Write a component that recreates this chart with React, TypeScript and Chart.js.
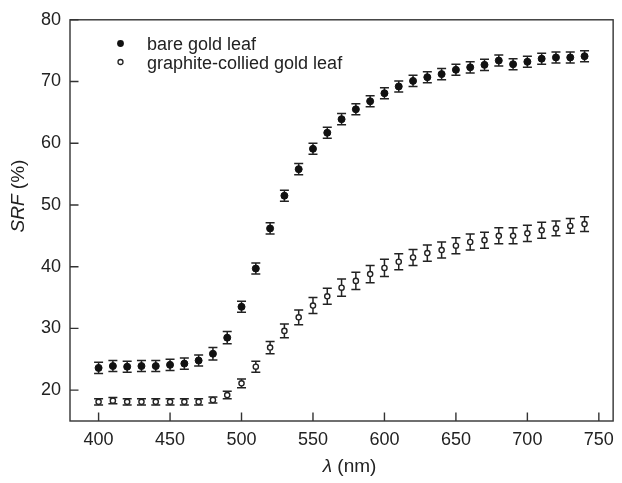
import React, { useEffect, useRef } from "react";
import { Chart, registerables } from "chart.js";

Chart.register(...registerables);

// ---- data ----
const wavelengths = [
  400, 410, 420, 430, 440, 450, 460, 470, 480, 490, 500, 510, 520, 530, 540, 550, 560, 570,
  580, 590, 600, 610, 620, 630, 640, 650, 660, 670, 680, 690, 700, 710, 720, 730, 740,
];
const bareLabel = "bare gold leaf";
const bareValues = [
  23.6, 23.9, 23.8, 23.9, 23.9, 24.1, 24.3, 24.8, 25.9, 28.5, 33.5, 39.7, 46.2, 51.5, 55.8, 59.1,
  61.7, 63.9, 65.5, 66.8, 68.1, 69.2, 70.1, 70.7, 71.2, 71.9, 72.3, 72.7, 73.4, 72.8, 73.2, 73.7,
  73.9, 73.9, 74.1,
];
const bareErrors = [
  0.9, 0.9, 0.9, 0.9, 0.9, 0.9, 0.9, 0.9, 1.0, 1.0, 0.9, 0.9, 0.9, 0.9, 0.9, 0.9, 0.9, 0.9,
  0.9, 0.9, 0.9, 0.9, 0.9, 0.9, 0.9, 0.9, 0.9, 0.9, 0.9, 0.9, 0.9, 0.9, 0.9, 0.9, 0.9,
];
const graphiteLabel = "graphite-collied gold leaf";
const graphiteValues = [
  18.1, 18.3, 18.1, 18.1, 18.1, 18.1, 18.1, 18.1, 18.4, 19.2, 21.1, 23.8, 26.9, 29.6, 31.8, 33.7,
  35.2, 36.6, 37.7, 38.8, 39.8, 40.8, 41.5, 42.2, 42.7, 43.4, 44.0, 44.3, 45.0, 45.0, 45.4, 45.9,
  46.2, 46.6, 46.9,
];
const graphiteErrors = [
  0.5, 0.5, 0.5, 0.5, 0.5, 0.5, 0.5, 0.5, 0.5, 0.6, 0.7, 0.9, 1.0, 1.1, 1.2, 1.3, 1.3, 1.4,
  1.4, 1.4, 1.4, 1.3, 1.3, 1.3, 1.3, 1.3, 1.3, 1.3, 1.3, 1.3, 1.3, 1.3, 1.2, 1.2, 1.2,
];
const xTickValues = [400, 450, 500, 550, 600, 650, 700, 750];
const yTickValues = [20, 30, 40, 50, 60, 70, 80];
const xTitleItalic = "λ";
const xTitleRest = " (nm)";
const yTitleItalic = "SRF";
const yTitleRest = " (%)";

const FONT = "'Liberation Sans', Arial, Helvetica, sans-serif";
const INK = "#222";
const AXIS = "#333";

const errorBarPlugin = {
  id: "errorBars",
  beforeDatasetsDraw(chart: any) {
    const ctx = chart.ctx;
    const yScale = chart.scales.y;
    const errs = [bareErrors, graphiteErrors];
    const vals = [bareValues, graphiteValues];
    ctx.save();
    ctx.strokeStyle = INK;
    ctx.lineWidth = 1.5;
    chart.data.datasets.forEach((_ds: any, di: number) => {
      const meta = chart.getDatasetMeta(di);
      meta.data.forEach((pt: any, i: number) => {
        const x = pt.x;
        const yTop = yScale.getPixelForValue(vals[di][i] + errs[di][i]);
        const yBot = yScale.getPixelForValue(vals[di][i] - errs[di][i]);
        const cap = 4.5;
        ctx.beginPath();
        ctx.moveTo(x, yTop);
        ctx.lineTo(x, yBot);
        ctx.moveTo(x - cap, yTop);
        ctx.lineTo(x + cap, yTop);
        ctx.moveTo(x - cap, yBot);
        ctx.lineTo(x + cap, yBot);
        ctx.stroke();
      });
    });
    ctx.restore();
  },
};

const framePlugin = {
  id: "frame",
  afterDraw(chart: any) {
    const ctx = chart.ctx;
    const { left, right, top, bottom } = chart.chartArea;
    const xs = chart.scales.x;
    const ys = chart.scales.y;
    ctx.save();
    ctx.strokeStyle = AXIS;
    ctx.lineWidth = 1.4;
    ctx.strokeRect(left, top, right - left, bottom - top);
    const tl = 8.5;
    ctx.beginPath();
    xTickValues.forEach((v) => {
      const px = xs.getPixelForValue(v);
      ctx.moveTo(px, bottom);
      ctx.lineTo(px, bottom - tl);
    });
    yTickValues.forEach((v) => {
      const py = ys.getPixelForValue(v);
      ctx.moveTo(left, py);
      ctx.lineTo(left + tl, py);
    });
    ctx.stroke();

    // legend
    const lx = 120.5;
    ctx.fillStyle = "#111";
    ctx.beginPath();
    ctx.arc(lx, 43.5, 3.4, 0, Math.PI * 2);
    ctx.fill();
    ctx.fillStyle = "#fff";
    ctx.strokeStyle = INK;
    ctx.lineWidth = 1.3;
    ctx.beginPath();
    ctx.arc(lx, 62, 2.5, 0, Math.PI * 2);
    ctx.fill();
    ctx.stroke();
    ctx.fillStyle = INK;
    ctx.font = `18px ${FONT}`;
    ctx.textAlign = "left";
    ctx.textBaseline = "alphabetic";
    ctx.fillText(bareLabel, 147, 50);
    ctx.fillText(graphiteLabel, 147, 68.5);

    // x title
    const italic = `italic 19px ${FONT}`;
    const normal = `19px ${FONT}`;
    ctx.font = italic;
    const w1 = ctx.measureText(xTitleItalic).width;
    ctx.font = normal;
    const w2 = ctx.measureText(xTitleRest).width;
    const cx = (left + right) / 2 + 8;
    let sx = cx - (w1 + w2) / 2;
    ctx.textBaseline = "middle";
    ctx.font = italic;
    ctx.fillText(xTitleItalic, sx, 467);
    ctx.font = normal;
    ctx.fillText(xTitleRest, sx + w1, 467);

    // y title
    ctx.save();
    ctx.translate(19, 196);
    ctx.rotate(-Math.PI / 2);
    ctx.font = italic;
    const w3 = ctx.measureText(yTitleItalic).width;
    ctx.font = normal;
    const w4 = ctx.measureText(yTitleRest).width;
    sx = -(w3 + w4) / 2;
    ctx.font = italic;
    ctx.fillText(yTitleItalic, sx, 0);
    ctx.font = normal;
    ctx.fillText(yTitleRest, sx + w3, 0);
    ctx.restore();
    ctx.restore();
  },
};

export default function App() {
  const ref = useRef<HTMLCanvasElement>(null);
  useEffect(() => {
    const chart = new Chart(ref.current as HTMLCanvasElement, {
      type: "scatter",
      data: {
        datasets: [
          {
            label: bareLabel,
            data: wavelengths.map((x, i) => ({ x, y: bareValues[i] })),
            pointRadius: 3.5,
            pointBackgroundColor: "#111",
            pointBorderColor: "#111",
            pointBorderWidth: 1,
            showLine: false,
          },
          {
            label: graphiteLabel,
            data: wavelengths.map((x, i) => ({ x, y: graphiteValues[i] })),
            pointRadius: 2.6,
            pointBackgroundColor: "#fff",
            pointBorderColor: INK,
            pointBorderWidth: 1.4,
            showLine: false,
          },
        ],
      },
      options: {
        animation: false,
        responsive: false,
        events: [],
        layout: { padding: { top: 14, right: 3, left: 0, bottom: 0 } },
        plugins: { legend: { display: false }, tooltip: { enabled: false } },
        scales: {
          x: {
            type: "linear",
            min: 380,
            max: 760,
            afterBuildTicks: (s: any) => {
              s.ticks = xTickValues.map((v) => ({ value: v }));
            },
            afterFit: (s: any) => {
              s.height = 62;
            },
            grid: { display: false, drawTicks: false },
            border: { display: false },
            ticks: { font: { size: 18, family: FONT }, color: INK, padding: 8, maxRotation: 0 },
          },
          y: {
            type: "linear",
            min: 15,
            max: 80,
            afterBuildTicks: (s: any) => {
              s.ticks = yTickValues.map((v) => ({ value: v }));
            },
            afterFit: (s: any) => {
              s.width = 70;
            },
            grid: { display: false, drawTicks: false },
            border: { display: false },
            ticks: { font: { size: 18, family: FONT }, color: INK, padding: 9 },
          },
        },
      },
      plugins: [errorBarPlugin, framePlugin],
    });
    return () => chart.destroy();
  }, []);
  return (
    <div style={{ position: "fixed", left: 0, top: 0, width: 622, height: 483, background: "#fff" }}>
      <canvas ref={ref} width={622} height={483} style={{ width: 622, height: 483, display: "block" }} />
    </div>
  );
}
